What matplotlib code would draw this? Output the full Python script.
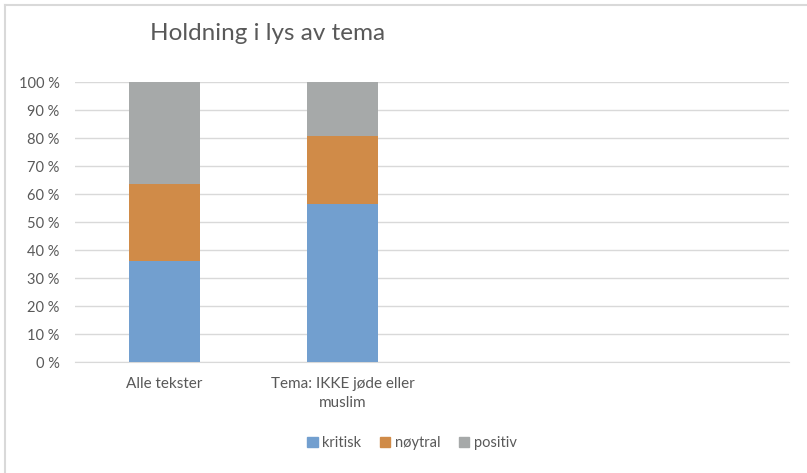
import matplotlib.pyplot as plt
from matplotlib.lines import Line2D
import numpy as np

categories = ["Alle tekster", "Tema: IKKE jøde eller\nmuslim", "", ""]
kritisk = [36.1, 56.4]
noytral = [27.5, 24.2]
positiv = [36.4, 19.4]
series_names = ["kritisk", "nøytral", "positiv"]
colors = ["#729FCF", "#D08B48", "#A6A9A9"]
y_ticks = list(range(0, 101, 10))

plt.rcParams['font.family'] = ['Lato', 'DejaVu Sans']

fig = plt.figure(figsize=(8.07, 4.73), dpi=100)
ax = fig.add_axes([75 / 807, 1 - 362 / 473, (789 - 75) / 807, 280 / 473])

x = np.arange(2)
width = 0.4
bottom = np.zeros(2)
for name, vals, c in zip(series_names, [kritisk, noytral, positiv], colors):
    ax.bar(x, vals, width, bottom=bottom, color=c, label=name, zorder=3)
    bottom += np.array(vals)

ax.set_xlim(-0.5, 3.5)
ax.set_ylim(0, 100)
ax.set_yticks(y_ticks)
ax.set_yticklabels([f"{t} %" for t in y_ticks], fontsize=10.5)
ax.set_xticks(range(len(categories)))
ax.set_xticklabels(categories, fontsize=11, linespacing=1.45)
ax.tick_params(axis='both', length=0, colors='#595959')
ax.tick_params(axis='y', pad=11)
ax.tick_params(axis='x', pad=11)
ax.grid(axis='y', color='#D9D9D9', lw=1, zorder=0)
for s in ['top', 'right', 'left']:
    ax.spines[s].set_visible(False)
ax.spines['bottom'].set_color('#D9D9D9')

fig.text(268 / 807, 1 - 33 / 473, "Holdning i lys av tema", fontsize=17.5,
         color='#595959', ha='center', va='center')

handles = [plt.Rectangle((0, 0), 1, 1, color=c) for c in colors]
fig.legend(handles, series_names, loc='center', bbox_to_anchor=(412 / 807, 1 - 443 / 473),
           ncol=3, frameon=False, fontsize=10.5, handlelength=0.7, handleheight=0.7,
           handletextpad=0.3, columnspacing=1.3, labelcolor='#595959')

# chart area border (top and left edges visible)
fig.add_artist(Line2D([4.5 / 807, 4.5 / 807], [0, 1 - 5 / 473], color='#D9D9D9', lw=1.5))
fig.add_artist(Line2D([4.5 / 807, 1], [1 - 5 / 473, 1 - 5 / 473], color='#D9D9D9', lw=1.5))

fig.savefig("out.png", dpi=100)
